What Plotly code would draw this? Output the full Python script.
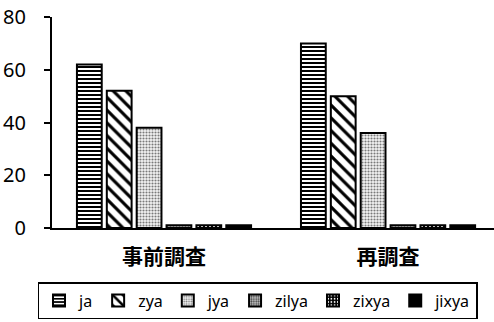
import plotly.graph_objects as go

# Survey rounds (categories) and response counts per form
categories = ["事前調査", "再調査"]
series_names = ["ja", "zya", "jya", "zilya", "zixya", "jixya"]
ja = [62, 70]
zya = [52, 50]
jya = [38, 36]
zilya = [1, 1]
zixya = [1, 1]
jixya = [1, 1]
y_ticks = [0, 20, 40, 60, 80]

values = [ja, zya, jya, zilya, zixya, jixya]

# Monochrome fill patterns for each series
patterns = [
    dict(shape="-", fgcolor="black", bgcolor="white", size=4, solidity=0.5, fillmode="replace"),
    dict(shape="\\", fgcolor="black", bgcolor="white", size=9, solidity=0.35, fillmode="replace"),
    dict(shape=".", fgcolor="#7a7a7a", bgcolor="#f4f4f4", size=3, solidity=0.4, fillmode="replace"),
    dict(shape=".", fgcolor="#444444", bgcolor="#c8c8c8", size=3, solidity=0.45, fillmode="replace"),
    dict(shape=".", fgcolor="white", bgcolor="black", size=4, solidity=0.25, fillmode="replace"),
    dict(shape="", fgcolor="black", bgcolor="black"),
]

fig = go.Figure()
for name, vals, pat in zip(series_names, values, patterns):
    marker = dict(color="white" if pat["shape"] else "black",
                  line=dict(color="black", width=2),
                  pattern=pat)
    fig.add_trace(go.Bar(name=name, x=[0, 1], y=vals, marker=marker))

fig.update_layout(
    width=494, height=322,
    margin=dict(l=52, r=0, t=17, b=94, autoexpand=False),
    paper_bgcolor="white", plot_bgcolor="white",
    barmode="group", bargap=0.2, bargroupgap=0.17,
    font=dict(family="Noto Sans, Open Sans, sans-serif", size=16, color="black"),
    showlegend=True,
    legend=dict(
        orientation="h", x=0.465, xanchor="center", y=-0.256, yanchor="top",
        bordercolor="black", borderwidth=1.5,
        font=dict(size=16), itemwidth=30, tracegroupgap=0,
        traceorder="normal",
    ),
    xaxis=dict(
        tickmode="array", tickvals=[0, 1], ticktext=categories,
        range=[-0.5, 1.473], showline=True, linecolor="black", linewidth=2,
        ticks="", showgrid=False, zeroline=False,
        tickfont=dict(family="Noto Sans CJK JP", size=21, color="black", weight="bold"),
        ticklabelstandoff=9,
    ),
    yaxis=dict(
        range=[0, 80], tickmode="array", tickvals=y_ticks,
        showline=True, linecolor="black", linewidth=2,
        ticks="outside", ticklen=6, tickwidth=2, tickcolor="black",
        showgrid=False, zeroline=False, ticklabelstandoff=14,
        tickfont=dict(size=20),
    ),
)

fig.write_html("out.html")
